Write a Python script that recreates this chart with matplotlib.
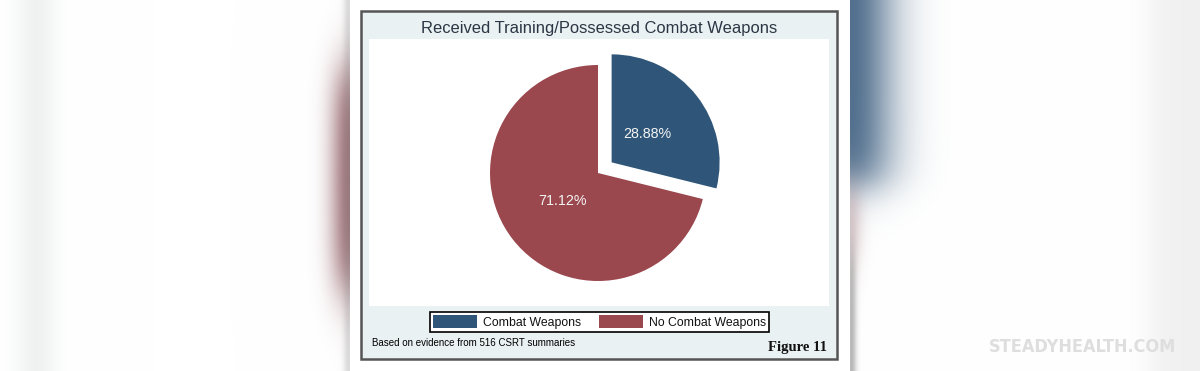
import numpy as np
import matplotlib
matplotlib.use("Agg")
import matplotlib.pyplot as plt
from matplotlib.patches import Rectangle

# ---- data ----
categories = ["Combat Weapons", "No Combat Weapons"]
shares = [28.88, 71.12]
colors = ["#2F5679", "#9A474D"]
title = "Received Training/Possessed Combat Weapons"
note = "Based on evidence from 516 CSRT summaries"
fig_label = "Figure 11"
watermark = "STEADYHEALTH.COM"

W, H = 1200, 371
fig = plt.figure(figsize=(W / 100, H / 100), dpi=100)

# ---- blurred decorative background ----
X, Y = np.meshgrid(np.arange(W), np.arange(H))
img = np.ones((H, W, 3))


def blend(img, color, alpha):
    a = np.clip(alpha, 0, 1)[..., None]
    return img * (1 - a) + np.array(color)[None, None, :] * a


def sig(v):
    return 1 / (1 + np.exp(-v))


# left gray band
img = blend(img, (0.90, 0.91, 0.91), 0.6 * np.exp(-((X - 36) / 20.0) ** 2))
# right gray band
img = blend(img, (0.93, 0.93, 0.93), 0.8 * sig((X - 1150) / 8.0))
# red glow left of panel
venv = sig((Y - 70) / 18.0) * sig((290 - Y) / 18.0)
img = blend(img, (0.52, 0.30, 0.33), 0.8 * np.exp(-((350 - X) / 20.0) ** 2) * venv * (X < 352))
# blue glow right of panel
venv_b = sig((185 - Y) / 12.0)
img = blend(img, (0.25, 0.38, 0.51), 0.9 * np.exp(-((X - 850) / 45.0) ** 2) * venv_b * (X > 848))
# faint red right below
venv_r = sig((Y - 190) / 12.0) * sig((260 - Y) / 15.0)
img = blend(img, (0.60, 0.40, 0.42), 0.35 * np.exp(-((X - 850) / 12.0) ** 2) * venv_r * (X > 848))
# gray shadow at panel edges
img = blend(img, (0.45, 0.45, 0.45), 0.5 * np.exp(-((X - 851) / 5.0) ** 2) * sig((Y - 250) / 15.0) * (X > 848))
img = blend(img, (0.55, 0.55, 0.55), 0.3 * np.exp(-((348 - X) / 5.0) ** 2) * (X < 350))

ax_bg = fig.add_axes([0, 0, 1, 1])
ax_bg.imshow(img, extent=(0, W, H, 0), aspect="auto", interpolation="bilinear")
ax_bg.set_xlim(0, W)
ax_bg.set_ylim(H, 0)
ax_bg.axis("off")

# white panel
ax_bg.add_patch(Rectangle((350, 0), 500, H, facecolor="white", edgecolor="none"))
# chart frame
ax_bg.add_patch(Rectangle((361, 11), 476, 348, facecolor="#EAF1F3", edgecolor="#555555", linewidth=1.8))
# plot region
ax_bg.add_patch(Rectangle((369, 39), 460, 267, facecolor="white", edgecolor="none"))

# title
ax_bg.text(599, 29, title, ha="center", va="center", fontsize=11.9,
           family="Liberation Sans", color="#2B3644")
# footnote
ax_bg.text(372, 343, note, ha="left", va="center", fontsize=7.0,
           family="Liberation Sans", color="black")
ax_bg.text(827, 347, fig_label, ha="right", va="center", fontsize=10.5,
           family="Liberation Serif", weight="bold", color="#111111")
# watermark
ax_bg.text(1176, 347, watermark, ha="right", va="center", fontsize=13,
           family="DejaVu Sans", weight="bold", stretch="condensed", color="#DEDEDE")

# ---- pie ----
cx, cy, R = 598, 173, 108
half = 1.5 * R
ax = fig.add_axes([(cx - half) / W, (H - cy - half) / H, 2 * half / W, 2 * half / H])
wedges, texts, autotexts = ax.pie(
    shares, colors=colors, startangle=90, counterclock=False,
    explode=(0.16, 0), autopct="%.2f%%", pctdistance=0.42,
    wedgeprops=dict(linewidth=0),
    textprops=dict(color="#F4F4F4", fontsize=10.3, family="Liberation Sans"),
)
ax.set_xlim(-1.5, 1.5)
ax.set_ylim(-1.5, 1.5)
ax.set_aspect("equal")
ax.axis("off")

# ---- legend ----
leg = ax_bg.legend(
    wedges, categories, loc="center", bbox_to_anchor=(599.5, 322),
    bbox_transform=ax_bg.transData, ncol=2, frameon=True, fancybox=False,
    edgecolor="black", framealpha=1, facecolor="white",
    prop=dict(family="Liberation Sans", size=8.8),
    handlelength=3.6, handleheight=1.25, handletextpad=0.55,
    columnspacing=1.4, borderpad=0.25, borderaxespad=0,
)
leg.get_frame().set_linewidth(1.2)
for t in leg.get_texts():
    t.set_color("#111111")

fig.savefig("out.png", dpi=100)
